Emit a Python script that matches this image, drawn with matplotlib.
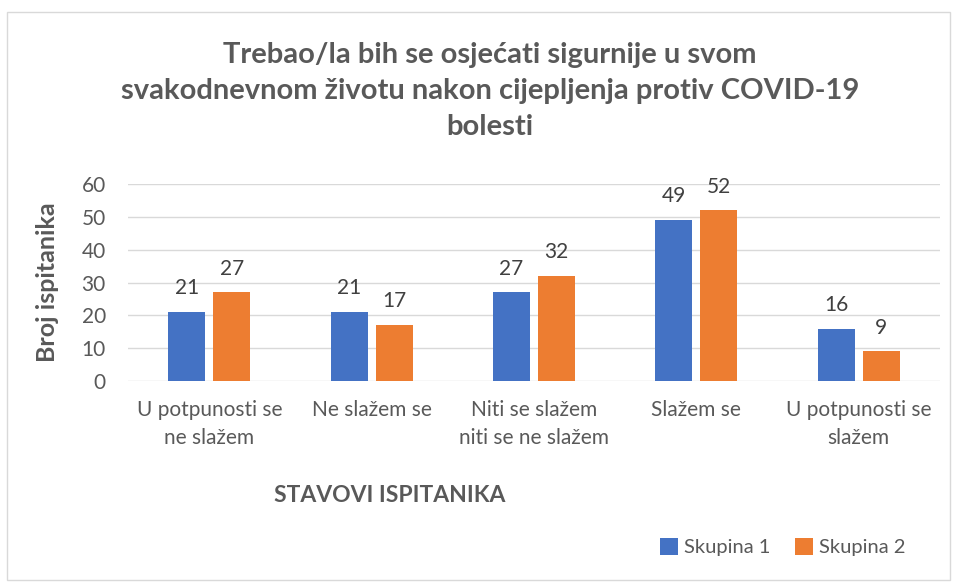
import numpy as np
import matplotlib.pyplot as plt
from matplotlib.patches import Rectangle

categories = ["U potpunosti se\nne slažem", "Ne slažem se", "Niti se slažem\nniti se ne slažem",
              "Slažem se", "U potpunosti se\nslažem"]
skupina1 = [21, 21, 27, 49, 16]
skupina2 = [27, 17, 32, 52, 9]
series_names = ["Skupina 1", "Skupina 2"]

title = "Trebao/la bih se osjećati sigurnije u svom\nsvakodnevnom životu nakon cijepljenja protiv COVID-19\nbolesti"

BLUE = "#4472C4"
ORANGE = "#ED7D31"
TXT = "#595959"
GRID = "#D9D9D9"

plt.rcParams["font.family"] = ["Lato", "DejaVu Sans"]

fig = plt.figure(figsize=(9.56, 5.83), dpi=100)
fig.patches.append(Rectangle((7 / 956, 3 / 583), 943 / 956, 568 / 583, transform=fig.transFigure,
                             fill=False, edgecolor=GRID, linewidth=1))
ax = fig.add_axes([0.134, 0.3465, 0.849, 0.3375])

x = np.arange(len(categories))
w = 0.228
gap = 0.025
b1 = ax.bar(x - w / 2 - gap, skupina1, w, color=BLUE, label=series_names[0], zorder=3)
b2 = ax.bar(x + w / 2 + gap, skupina2, w, color=ORANGE, label=series_names[1], zorder=3)
for bars in (b1, b2):
    ax.bar_label(bars, padding=10, fontsize=15, color="#404040")

ax.set_ylim(0, 60)
ax.set_xlim(-0.5, len(categories) - 0.5)
ax.set_yticks(range(0, 61, 10))
ax.yaxis.grid(True, color=GRID, linewidth=1, zorder=0)
for s in ax.spines.values():
    s.set_visible(False)
ax.tick_params(axis="both", length=0, labelsize=15, colors=TXT)
ax.tick_params(axis="y", pad=16)
ax.tick_params(axis="x", pad=14)
ax.set_xticks(x)
ax.set_xticklabels(categories, linespacing=1.5)

ax.set_ylabel("Broj ispitanika", fontsize=18, fontweight="bold", color=TXT, labelpad=16)
fig.text(390 / 956, 1 - 495 / 583, "STAVOVI ISPITANIKA", fontsize=16.5, fontweight="bold",
         color=TXT, ha="center", va="center")
fig.text(490 / 956, 1 - 91 / 583, title, fontsize=21, fontweight="bold", color=TXT,
         ha="center", va="center", linespacing=1.5)

fig.legend(loc="center", bbox_to_anchor=(783 / 956, 1 - 547 / 583), ncol=2, frameon=False,
           fontsize=14.5, labelcolor=TXT, handlelength=0.9, handleheight=0.9, columnspacing=1.2,
           handletextpad=0.3)

fig.savefig("out.png", dpi=100)
